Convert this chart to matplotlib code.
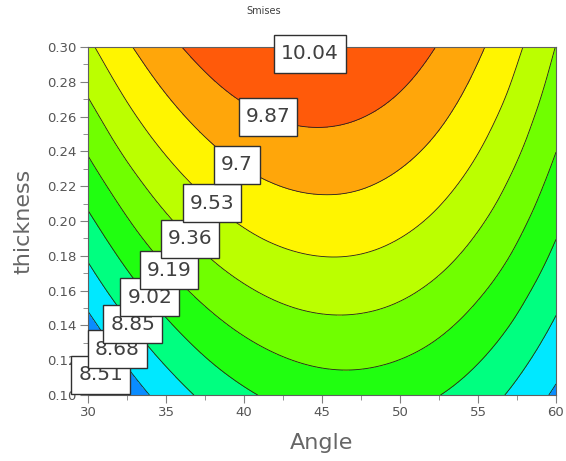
import numpy as np
import matplotlib
matplotlib.use('Agg')
from matplotlib import pyplot as plt
from matplotlib import tri
from matplotlib.ticker import MultipleLocator, FormatStrFormatter

# grid
angles = [30, 32.5, 35, 37.5, 40, 42.5, 45, 47.5, 50, 52.5, 55, 57.5, 60]
thickness = [0.100, 0.125, 0.150, 0.175, 0.200, 0.225, 0.250, 0.275, 0.300]
smises = [
    [8.375, 8.578, 8.748, 8.886, 8.991, 9.063, 9.102, 9.109, 9.082, 9.023, 8.932, 8.807, 8.650],
    [8.536, 8.736, 8.903, 9.038, 9.139, 9.207, 9.243, 9.245, 9.214, 9.151, 9.054, 8.924, 8.762],
    [8.692, 8.889, 9.053, 9.184, 9.282, 9.347, 9.378, 9.376, 9.341, 9.272, 9.170, 9.035, 8.867],
    [8.842, 9.037, 9.198, 9.326, 9.420, 9.480, 9.507, 9.501, 9.461, 9.388, 9.281, 9.141, 8.967],
    [8.986, 9.177, 9.335, 9.459, 9.550, 9.607, 9.629, 9.619, 9.574, 9.496, 9.384, 9.238, 9.058],
    [9.123, 9.311, 9.466, 9.587, 9.674, 9.726, 9.745, 9.730, 9.680, 9.597, 9.480, 9.328, 9.143],
    [9.254, 9.440, 9.591, 9.708, 9.791, 9.840, 9.854, 9.834, 9.780, 9.692, 9.569, 9.412, 9.221],
    [9.379, 9.561, 9.709, 9.823, 9.902, 9.946, 9.956, 9.932, 9.873, 9.779, 9.651, 9.489, 9.292],
    [9.497, 9.677, 9.821, 9.931, 10.006, 10.046, 10.052, 10.023, 9.959, 9.860, 9.727, 9.559, 9.356],
]
levels = [8.51, 8.68, 8.85, 9.02, 9.19, 9.36, 9.53, 9.7, 9.87, 10.04]
level_labels = ['8.51', '8.68', '8.85', '9.02', '9.19', '9.36', '9.53', '9.7', '9.87', '10.04']
# where the labels sit (angle, thickness)
label_pos = [(30.83, 0.1115), (31.86, 0.1264), (32.88, 0.1408), (33.97, 0.1563), (35.19, 0.1718),
             (36.54, 0.1897), (37.95, 0.2103), (39.55, 0.2322), (41.54, 0.2598), (44.23, 0.2960)]

fill_colors = ['#1553e0', '#0a8cff', '#00e8ff', '#00ff80', '#20ff10', '#70ff00',
               '#bbff00', '#fff500', '#ffa60a', '#ff5a0a', '#ff2000']

A, T = np.meshgrid(angles, thickness)
Z = np.array(smises)

# smooth the coarse grid with matplotlib's refiner (scaled y so cells are not flat)
yscale = 100.0
tr = tri.Triangulation(A.ravel(), T.ravel() * yscale)
refiner = tri.UniformTriRefiner(tr)
tr_fine, z_fine = refiner.refine_field(Z.ravel(), subdiv=3)
tr_plot = tri.Triangulation(tr_fine.x, tr_fine.y / yscale, tr_fine.triangles)

fig = plt.figure(figsize=(5.66, 4.61), dpi=100)
ax = fig.add_axes([88 / 566, 66 / 461, 468 / 566, 348 / 461])

ax.tricontourf(tr_plot, z_fine, levels=[8.0] + levels + [10.5], colors=fill_colors)
ax.tricontour(tr_plot, z_fine, levels=levels, colors='#202020', linewidths=0.6)

for i, (txt, (xa, yt)) in enumerate(zip(level_labels, label_pos)):
    ax.text(xa, yt, txt, fontsize=14.5, color='#404040', ha='center', va='center',
            zorder=10 + i, clip_on=False,
            bbox=dict(boxstyle='square,pad=0.35', mutation_aspect=1.35,
                      fc='white', ec='#303030', lw=1))

ax.set_xlim(30, 60)
ax.set_ylim(0.10, 0.30)
ax.xaxis.set_major_locator(MultipleLocator(5))
ax.xaxis.set_minor_locator(MultipleLocator(2.5))
ax.yaxis.set_major_locator(MultipleLocator(0.02))
ax.yaxis.set_minor_locator(MultipleLocator(0.01))
ax.yaxis.set_major_formatter(FormatStrFormatter('%.2f'))
ax.tick_params(which='major', length=6, color='#808080', labelsize=9.5, labelcolor='#555555', pad=2)
ax.tick_params(which='minor', length=3.5, color='#808080')
for s in ax.spines.values():
    s.set_color('#606060')
    s.set_linewidth(0.8)

ax.set_xlabel('Angle', fontsize=16, color='#666666', labelpad=10)
ax.set_ylabel('thickness', fontsize=16, color='#666666', labelpad=10)
fig.text(264 / 566, 1 - 11 / 461, 'Smises', fontsize=7, color='#404040', ha='center', va='center')

plt.savefig('out.png', dpi=100)
plt.close()
